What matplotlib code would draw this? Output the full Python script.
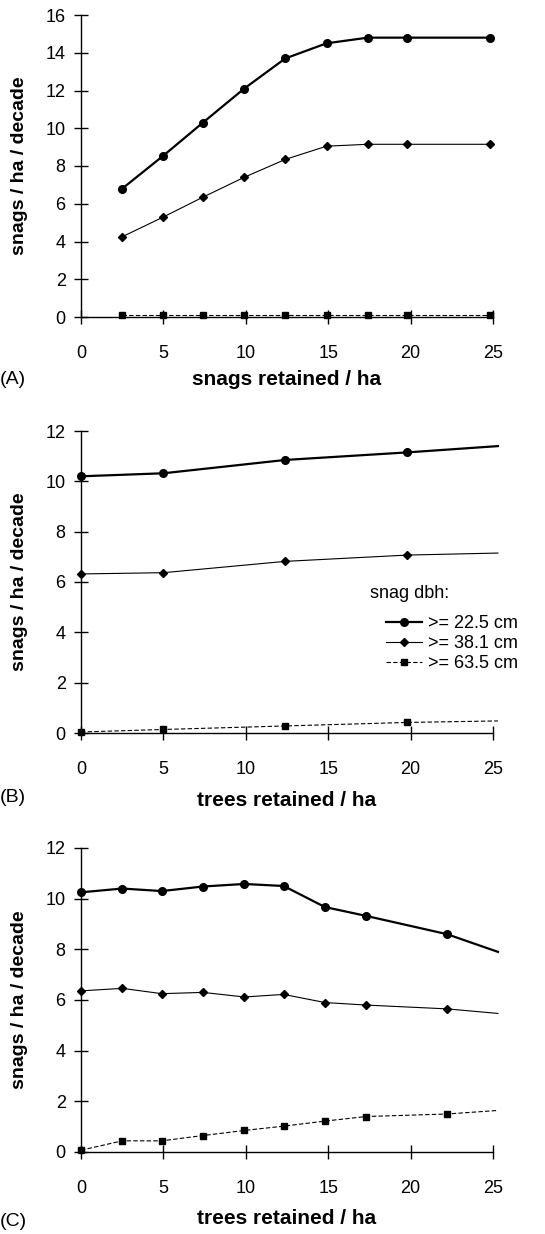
import matplotlib
matplotlib.use("Agg")
import matplotlib.pyplot as plt
import matplotlib.transforms as mtransforms
from matplotlib.lines import Line2D

plt.rcParams['font.family'] = ['Liberation Sans', 'DejaVu Sans']

# ---------------- data ----------------
series_labels = [">= 22.5 cm", ">= 38.1 cm", ">= 63.5 cm"]
legend_title = "snag dbh:"

A_x = [2.5, 5.0, 7.4, 9.9, 12.4, 14.9, 17.4, 19.8, 24.8]
A_big = [6.8, 8.55, 10.3, 12.1, 13.7, 14.5, 14.8, 14.8, 14.8]
A_mid = [4.25, 5.3, 6.35, 7.4, 8.35, 9.05, 9.15, 9.15, 9.15]
A_small = [0.13, 0.13, 0.13, 0.13, 0.13, 0.13, 0.13, 0.13, 0.13]

B_x = [0.0, 5.0, 12.4, 19.8, 25.3]
B_big = [10.2, 10.32, 10.85, 11.15, 11.4]
B_mid = [6.32, 6.37, 6.82, 7.07, 7.15]
B_small = [0.04, 0.14, 0.28, 0.42, 0.48]

C_x = [0.0, 2.5, 4.9, 7.4, 9.9, 12.3, 14.8, 17.3, 22.2, 25.3]
C_big = [10.25, 10.4, 10.3, 10.48, 10.58, 10.5, 9.67, 9.32, 8.6, 7.9]
C_mid = [6.36, 6.46, 6.25, 6.3, 6.12, 6.22, 5.9, 5.8, 5.65, 5.47]
C_small = [0.07, 0.44, 0.44, 0.65, 0.85, 1.02, 1.22, 1.4, 1.5, 1.64]

xlabels = ["snags retained / ha", "trees retained / ha", "trees retained / ha"]
panel_tags = ["(A)", "(B)", "(C)"]
ylabel = "snags / ha / decade"
yticks_A = [0, 2, 4, 6, 8, 10, 12, 14, 16]
yticks_BC = [0, 2, 4, 6, 8, 10, 12]
xticks = [0, 5, 10, 15, 20, 25]

# ---------------- figure ----------------
W, H = 545, 1234
fig = plt.figure(figsize=(W / 100, H / 100), dpi=100)

def px_axes(left, top, right, bottom):
    return fig.add_axes([left / W, 1 - bottom / H, (right - left) / W, (bottom - top) / H])

XMAX = 25.3
x_right_px = 81 + (493 - 81) / 25 * XMAX

axes_spec = [
    (15, 317, 16, yticks_A, A_x, A_big, A_mid, A_small, False),
    (431, 733, 12, yticks_BC, B_x, B_big, B_mid, B_small, True),
    (848, 1152, 12, yticks_BC, C_x, C_big, C_mid, C_small, True),
]
tag_y = [380, 798, 1221]
xlabel_y = [380, 800, 1218]

styles = [
    dict(color='black', lw=1.6, ls='-', marker='o', ms=5.5),
    dict(color='black', lw=0.8, ls='-', marker='D', ms=4.5),
    dict(color='black', lw=0.8, ls=(0, (4, 2)), marker='s', ms=5),
]

axs = []
for i, (top, bot, ymax, yt, xs, b, m, s, clip_last) in enumerate(axes_spec):
    ax = px_axes(81, top, x_right_px, bot)
    axs.append(ax)
    n = len(xs)
    mk = list(range(n - 1)) if clip_last else list(range(n))
    for ys, st, lab in zip([b, m, s], styles, series_labels):
        ax.plot(xs, ys, color=st['color'], lw=st['lw'], ls=st['ls'],
                marker=st['marker'], ms=st['ms'], markevery=mk,
                clip_on=False, label=lab, zorder=3)
    ax.set_xlim(0, XMAX)
    ax.set_ylim(0, ymax)
    ax.spines['top'].set_visible(False)
    ax.spines['right'].set_visible(False)
    ax.spines['bottom'].set_bounds(0, 25)
    ax.spines['left'].set_linewidth(1.0)
    ax.spines['bottom'].set_linewidth(1.0)
    ax.set_xticks(xticks)
    ax.set_yticks(yt)
    ax.tick_params(axis='both', direction='inout', length=10, width=1.0,
                   labelsize=13)
    ax.tick_params(axis='y', pad=6)
    ax.tick_params(axis='x', pad=15)
    ax.set_ylabel(ylabel, fontsize=14, fontweight='bold')
    ax.yaxis.set_label_coords(
        28 / W, 0.5,
        transform=mtransforms.blended_transform_factory(fig.transFigure, ax.transAxes))
    fig.text(287 / W, 1 - xlabel_y[i] / H, xlabels[i], fontsize=15,
             fontweight='bold', ha='center', va='center')
    fig.text(0 / W, 1 - tag_y[i] / H, panel_tags[i], fontsize=14,
             ha='left', va='center')

# legend in panel B
axB = axs[1]
fig.text(370 / W, 1 - 593 / H, legend_title, fontsize=13, ha='left', va='center')
handles = [Line2D([], [], color=st['color'], lw=st['lw'], ls=st['ls'],
                  marker=st['marker'], ms=st['ms']) for st in styles]
axB.legend(handles, series_labels, loc='upper left',
           bbox_to_anchor=(386 / W, 1 - 615 / H), bbox_transform=fig.transFigure,
           frameon=False, fontsize=13, borderpad=0, borderaxespad=0,
           handlelength=2.0, handletextpad=0.35, labelspacing=0.18)

fig.savefig("out.png", dpi=100)
